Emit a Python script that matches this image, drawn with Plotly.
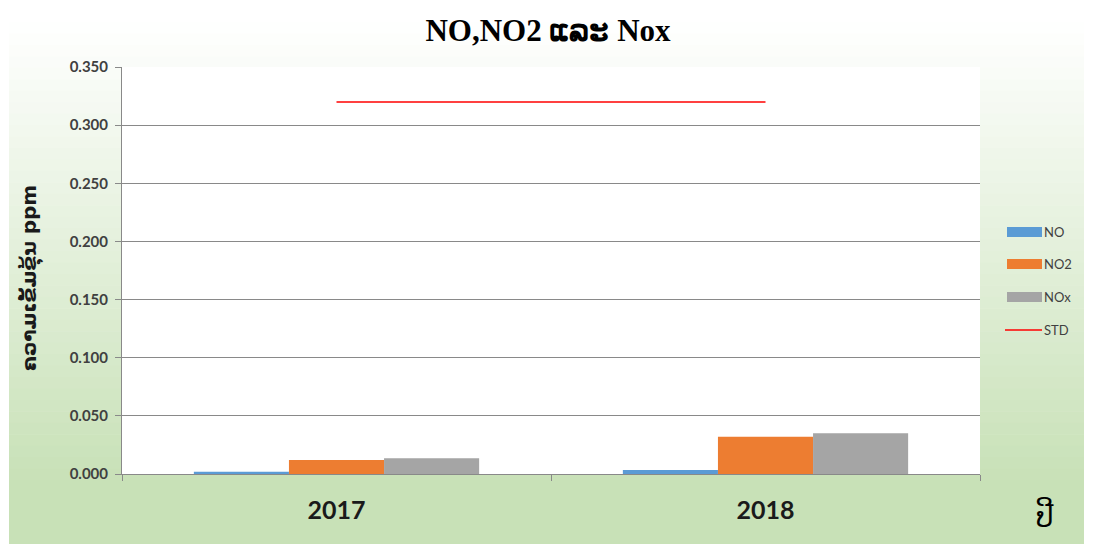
import plotly.graph_objects as go

years = ["2017", "2018"]
no_vals = [0.002, 0.0035]
no2_vals = [0.012, 0.032]
nox_vals = [0.0135, 0.035]
std_vals = [0.32, 0.32]
y_ticks = [0.0, 0.05, 0.10, 0.15, 0.20, 0.25, 0.30, 0.35]
series_names = ["NO", "NO2", "NOx", "STD"]
series_colors = ["#5b9bd5", "#ed7d31", "#a5a5a5", "#ff0000"]

OFF = 8  # page offset of the figure (body margin)
W, H = 1093 - OFF, 544 - OFF
L, R, T, B = 122 - OFF, 980 - OFF, 67 - OFF, 474 - OFF

def px2x(px):
    return (px - OFF - L) / (R - L)

def py2y(py):
    return (B - (py - OFF)) / (B - T)

fig = go.Figure()
for name, vals, col in zip(series_names[:3], [no_vals, no2_vals, nox_vals], series_colors[:3]):
    fig.add_bar(x=years, y=vals, name=name, marker_color=col, marker_line_width=0)
fig.add_scatter(x=years, y=std_vals, name=series_names[3], mode="lines",
                line=dict(color=series_colors[3], width=1.5))

# gradient background
shapes = []
top_py, grad_end, bot_py = 22, 480, 560
c0 = (255, 255, 255)
c1 = (200, 225, 183)
n = 40
for i in range(n):
    a = top_py + (grad_end - top_py) * i / n
    b = top_py + (grad_end - top_py) * (i + 1) / n
    t = (i + 0.5) / n
    col = tuple(int(round(c0[k] + (c1[k] - c0[k]) * t)) for k in range(3))
    shapes.append(dict(type="rect", xref="paper", yref="paper",
                       x0=px2x(9), x1=px2x(1084), y0=py2y(b + 0.5), y1=py2y(a),
                       fillcolor="rgb(%d,%d,%d)" % col, line_width=0, layer="below"))
shapes.append(dict(type="rect", xref="paper", yref="paper",
                   x0=px2x(9), x1=px2x(1084), y0=py2y(bot_py), y1=py2y(grad_end),
                   fillcolor="rgb(%d,%d,%d)" % c1, line_width=0, layer="below"))
shapes.append(dict(type="rect", xref="paper", yref="paper",
                   x0=0, x1=1, y0=0, y1=1, fillcolor="white", line_width=0, layer="below"))

# manual legend
leg_y = [232, 264, 297, 330]
for name, col, yy in zip(series_names, series_colors, leg_y):
    if name == "STD":
        shapes.append(dict(type="line", xref="paper", yref="paper",
                           x0=px2x(1005), x1=px2x(1042), y0=py2y(yy), y1=py2y(yy),
                           line=dict(color=col, width=1.5)))
    else:
        shapes.append(dict(type="rect", xref="paper", yref="paper",
                           x0=px2x(1007), x1=px2x(1042), y0=py2y(yy + 5), y1=py2y(yy - 5),
                           fillcolor=col, line_width=0))
    fig.add_annotation(text=name, xref="paper", yref="paper", x=px2x(1042), y=py2y(yy),
                       showarrow=False, xanchor="left", yanchor="middle",
                       font=dict(family="Lato, Liberation Sans, sans-serif", size=13, color="#404040"))

fig.update_layout(
    width=W, height=H,
    margin=dict(l=L, r=W - R, t=T, b=H - B, pad=0),
    paper_bgcolor="white", plot_bgcolor="white",
    barmode="group", bargap=0.335, bargroupgap=0,
    shapes=shapes,
    title=dict(text="<b>NO,NO2 ແລະ Nox</b>", x=(548 - OFF) / W, xanchor="center",
               y=1 - (30 - OFF) / H, yanchor="middle",
               font=dict(family="Liberation Serif, DejaVu Serif, serif", size=31, color="#000000")),
    showlegend=False,
)
fig.update_xaxes(
    type="category", showgrid=False, showline=True, linecolor="#898989", linewidth=1,
    ticks="outside", ticklen=6, tickcolor="#898989", tickson="boundaries",
    ticklabelstandoff=14,
    tickfont=dict(family="Lato, Liberation Sans, sans-serif", size=25, color="#1a1a1a", weight="bold"),
)
fig.update_yaxes(
    range=[0, 0.35], tickvals=y_ticks, tickformat=".3f",
    showgrid=True, gridcolor="#898989", gridwidth=1,
    showline=True, linecolor="#898989", linewidth=1,
    ticks="outside", ticklen=6, tickcolor="#898989", zeroline=False,
    ticklabelstandoff=4,
    tickfont=dict(family="Lato, Liberation Sans, sans-serif", size=15, color="#404040", weight="bold"),
)
fig.add_annotation(text="<b>ຄວາມເຂັ້ມຂຸ້ນ ppm</b>", xref="paper", yref="paper",
                   x=px2x(30), y=py2y(278), textangle=-90, showarrow=False,
                   xanchor="center", yanchor="middle",
                   font=dict(family="DejaVu Sans, Noto Sans, sans-serif", size=20, color="#1a1a1a"))
fig.add_annotation(text="ປີ", xref="paper", yref="paper", x=px2x(1045), y=py2y(515),
                   showarrow=False, xanchor="center", yanchor="middle",
                   font=dict(family="DejaVu Sans, Noto Sans, sans-serif", size=28, color="#000000"))

fig.write_html("out.html")
